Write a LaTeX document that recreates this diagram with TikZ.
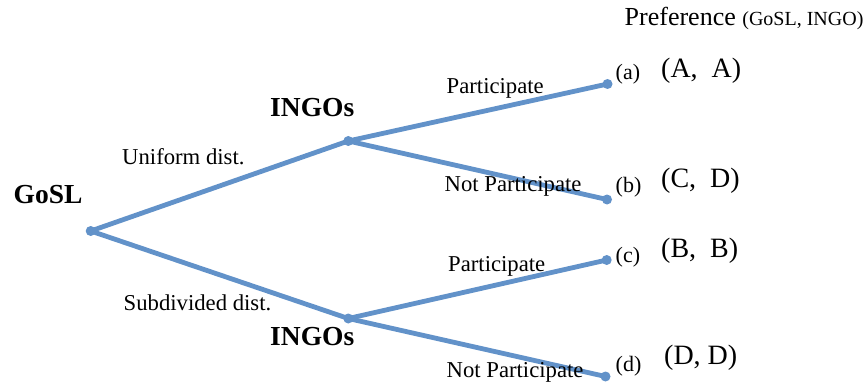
\documentclass[tikz,border=0pt]{standalone}
\usepackage{fontspec}
\setmainfont{Liberation Serif}
\definecolor{branch}{RGB}{98,146,201}
\begin{document}
\begin{tikzpicture}[x=1pt,y=-1pt,
  dot/.style={circle,fill=branch,inner sep=0pt,minimum size=10pt},
  edge/.style={draw=branch,line width=4.8pt},
  lbl/.style={anchor=base west,inner sep=0pt,font=\fontsize{22.7}{26}\selectfont},
  player/.style={anchor=base west,inner sep=0pt,font=\fontsize{27.5}{32}\selectfont\bfseries},
  leaf/.style={anchor=base west,inner sep=0pt,font=\fontsize{22}{26}\selectfont},
  pay/.style={anchor=base west,inner sep=0pt,font=\fontsize{28}{32}\selectfont}]
\useasboundingbox (0,0) rectangle (865,385);
% decision nodes
\node[dot] (root) at (90.7,231) {};
\node[dot] (u) at (348.3,141) {};
\node[dot] (l) at (348.3,318.5) {};
\node[dot] (a) at (607.5,84) {};
\node[dot] (b) at (607,199.5) {};
\node[dot] (c) at (606.7,260) {};
\node[dot] (d) at (605.5,376.5) {};
% branches
\draw[edge] (root.center) -- (u.center);
\draw[edge] (root.center) -- (l.center);
\draw[edge] (u.center) -- (a.center);
\draw[edge] (u.center) -- (b.center);
\draw[edge] (l.center) -- (c.center);
\draw[edge] (l.center) -- (d.center);
% player labels
\node[player] (gosl) at (13.5,204) {GoSL};
\node[player] (ingou) at (270,116.7) {INGOs};
\node[player] (ingol) at (270,345) {INGOs};
% action labels
\node[lbl] (uni) at (122,164.3) {Uniform dist.};
\node[lbl] (sub) at (123.5,310) {Subdivided dist.};
\node[lbl] (pu) at (446.5,93.5) {Participate};
\node[lbl] (npu) at (444.5,191.7) {Not Participate};
\node[lbl] (pl) at (448,271.5) {Participate};
\node[lbl] (npl) at (446.5,377) {Not Participate};
% header
\node[anchor=base west,inner sep=0pt] (pref) at (624.5,26)
  {\fontsize{26}{30}\selectfont Preference \fontsize{20}{24}\selectfont(GoSL, INGO)};
% outcome labels
\node[leaf] (la) at (615.5,80) {(a)};
\node[leaf] (lb) at (615.5,192.5) {(b)};
\node[leaf] (lc) at (615.5,262) {(c)};
\node[leaf] (ld) at (615.5,371) {(d)};
% payoffs
\node[pay] (pa) at (661,77.3) {(A,\ \ A)};
\node[pay] (pb) at (661,187.3) {(C,\ \ D)};
\node[pay] (pc) at (661,257.3) {(B,\ \ B)};
\node[pay] (pd) at (664,364) {(D, D)};
\end{tikzpicture}
\end{document}
